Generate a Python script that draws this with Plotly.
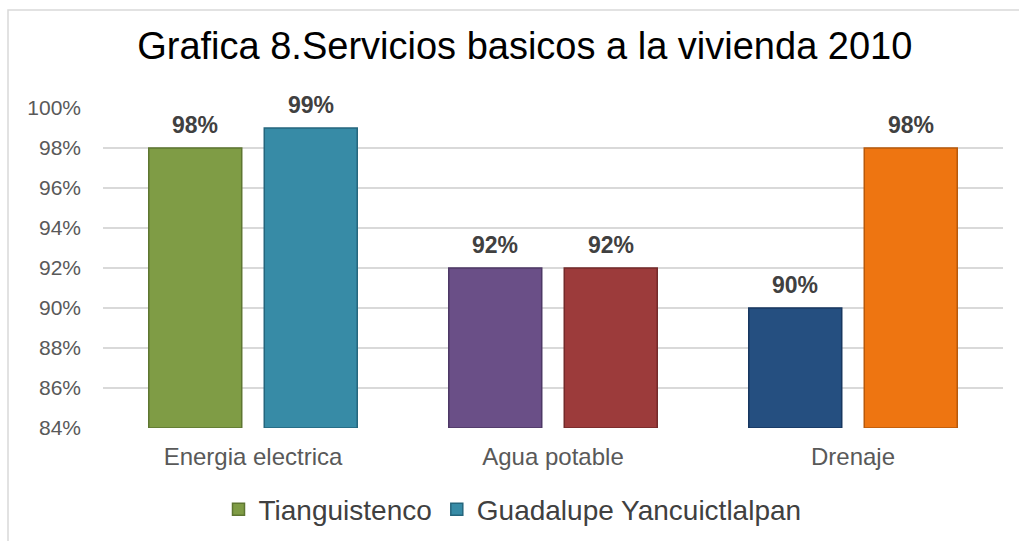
import plotly.graph_objects as go

categories = ["Energia electrica", "Agua potable", "Drenaje"]
series_names = ["Tianguistenco", "Guadalupe Yancuictlalpan"]
tianguistenco = [98, 92, 90]
guadalupe = [99, 92, 98]
axis_base = 84
tick_vals = [84, 86, 88, 90, 92, 94, 96, 98, 100]
tick_text = [f"{v}%" for v in tick_vals]

colors_t = ["#7F9C45", "#6A4F87", "#254F80"]
lines_t = ["#5E7631", "#4D3866", "#173760"]
colors_g = ["#378BA6", "#9C3B3B", "#EE7511"]
lines_g = ["#25667D", "#732A2A", "#B8590B"]

fig = go.Figure()
series = [
    (series_names[0], tianguistenco, colors_t, lines_t, -57.75),
    (series_names[1], guadalupe, colors_g, lines_g, 57.75),
]
for name, vals, cols, lcols, dx in series:
    fig.add_trace(go.Bar(
        x=categories, y=[v - axis_base for v in vals], base=axis_base, name=name,
        marker=dict(color=cols, line=dict(color=lcols, width=1.5)),
        hovertemplate="%{x}: %{customdata}%<extra>" + name + "</extra>",
        customdata=vals,
    ))
    for c, v in zip(categories, vals):
        fig.add_annotation(x=c, y=v, text=f"<b>{v}%</b>", showarrow=False,
                           xshift=dx, yshift=23, yanchor="middle",
                           font=dict(family="Liberation Sans, Arial", size=23, color="#404040"))

fig.update_layout(
    width=1019, height=541,
    barmode="group", bargap=0.23, bargroupgap=0.195,
    plot_bgcolor="white", paper_bgcolor="white",
    margin=dict(l=103, r=16, t=108, b=113, autoexpand=False),
    title=dict(text="Grafica 8.Servicios basicos a la vivienda 2010",
               x=0.515, xanchor="center", y=0.915, yanchor="middle",
               font=dict(family="Liberation Sans, Arial", size=38, color="#000000")),
    font=dict(family="Liberation Sans, Arial"),
    xaxis=dict(showgrid=False, showline=False, ticks="", ticklabelstandoff=12,
               tickfont=dict(size=24, color="#595959")),
    yaxis=dict(range=[84, 100], tickvals=tick_vals, ticktext=tick_text,
               showgrid=True, gridcolor="#D9D9D9", gridwidth=1.5,
               zeroline=False, showline=False, ticks="", ticklabelstandoff=21,
               tickfont=dict(size=21, color="#595959")),
    legend=dict(orientation="h", x=0.455, xanchor="center", y=-0.255, yanchor="middle",
                font=dict(size=28, color="#404040"), itemwidth=30,
                traceorder="normal"),
    showlegend=True,
)

# chart frame border (left and top edges visible)
fig.add_shape(type="rect", xref="paper", yref="paper",
              x0=-95/900, x1=1.2, y0=-0.6, y1=1 + 98/320,
              line=dict(color="#D9D9D9", width=1.5), layer="below")

fig.write_html("out.html", config={"displayModeBar": False},
               post_script="document.body.style.margin='0';document.body.style.overflow='hidden';")
